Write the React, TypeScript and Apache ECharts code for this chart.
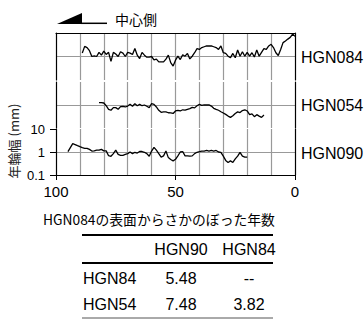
import React, { useEffect, useRef } from "react";
import * as echarts from "echarts";

const xTickLabels = [0, 50, 100];
const yTickLabels = ["0.1", "1", "10"];
const seriesNames = ["HGN084", "HGN054", "HGN090"];

const hgn084StartYear = 89;
const hgn084Values = [
  1.4, 2.7, 2.4, 1.77, 1.0, 1.07, 1.0, 1.5, 1.14, 1.7, 1.22, 1.5, 0.62, 1.5, 1.27, 1.0, 1.6, 1.4, 1.0, 1.5,
  1.4, 1.22, 2.2, 1.14, 0.82, 1.5, 1.14, 0.94, 0.94, 1.0, 0.72, 0.77, 0.59, 0.59, 0.59, 0.77, 1.14, 0.55, 0.39, 0.7,
  1.03, 0.74, 1.18, 1.03, 1.35, 0.79, 1.03, 1.45, 2.16, 2.0, 2.4, 2.6, 2.8, 2.8, 2.8, 2.6, 2.4, 2.0, 2.8, 1.45,
  1.35, 1.03, 0.9, 1.35, 0.88, 1.88, 1.03, 1.6, 1.03, 1.5, 1.03, 1.45, 0.95, 1.88, 1.03, 1.5, 2.16, 2.0, 2.8, 3.3,
  2.4, 1.45, 1.1, 2.0, 3.9, 4.6, 5.5, 6.5, 9.0, 7.2,
];

const hgn054StartYear = 82;
const hgn054Values = [
  1.26, 1.26, 1.22, 0.93, 0.65, 0.59, 0.77, 0.77, 0.65, 0.85, 0.88, 0.82, 0.9, 1.07, 0.88, 1.14, 0.93, 1.07, 0.93, 1.0,
  0.88, 0.77, 1.14, 1.07, 0.82, 0.59, 0.48, 0.5, 0.5, 0.46, 0.45, 0.43, 0.55, 0.59, 0.55, 0.62, 0.6, 0.65, 0.7, 0.79,
  0.75, 0.93, 1.07, 0.97, 1.02, 1.0, 1.02, 0.9, 0.72, 0.65, 0.59, 0.51, 0.45, 0.39, 0.33, 0.29, 0.34, 0.43, 0.5, 0.47,
  0.57, 0.62, 0.55, 0.38, 0.41, 0.31, 0.38, 0.33, 0.29, 0.37,
];

const hgn090StartYear = 95;
const hgn090Values = [
  1.03, 1.54, 2.3, 2.1, 1.88, 1.7, 1.54, 1.45, 1.45, 1.3, 1.1, 1.12, 1.2, 1.2, 1.3, 1.12, 1.12, 0.69, 0.65, 0.85,
  1.2, 0.79, 0.72, 0.72, 0.79, 0.85, 1.0, 0.85, 0.97, 0.9, 1.05, 1.05, 0.97, 0.85, 0.65, 1.1, 1.6, 1.2, 0.85, 0.6,
  0.68, 1.1, 0.57, 0.47, 0.41, 0.48, 0.68, 1.0, 1.05, 0.68, 0.68, 0.66, 0.68, 0.85, 0.97, 1.03, 1.1, 1.1, 1.17, 1.1,
  1.17, 1.1, 1.17, 1.0, 0.97, 0.66, 0.43, 0.35, 0.41, 0.35, 0.5, 0.66, 0.97, 0.66, 0.6, 0.6,
];

const tableColumns = ["HGN90", "HGN84"];
const tableRows = ["HGN84", "HGN54"];
const tableValues = [
  ["5.48", "--"],
  ["7.48", "3.82"],
];

const titleText = "中心側";
const yAxisName = "年輪幅 (mm)";
const xAxisName = "HGN084の表面からさかのぼった年数";

const LATIN = "'Liberation Sans', Arial, 'Noto Sans CJK JP', sans-serif";
const CJK = "'Noto Sans CJK JP', 'Liberation Sans', sans-serif";

function toPairs(start: number, values: number[]) {
  return values.map((v, i) => [start - i, v]);
}

export default function App() {
  const ref = useRef<HTMLDivElement>(null);
  useEffect(() => {
    if (!ref.current) return;
    const chart = echarts.init(ref.current, undefined, { renderer: "svg" });
    const gridLine = { lineStyle: { color: "#999999", width: 1.2 } };
    const grids = [
      { left: 56, right: 69, top: 33, height: 47 },
      { left: 56, right: 69, top: 82, height: 46 },
      { left: 56, right: 69, top: 129, height: 46 },
    ];
    const xAxes: any[] = grids.map((_, i) => ({
      type: "value",
      gridIndex: i,
      min: 0,
      max: 100,
      interval: 10,
      inverse: true,
      position: i === 0 ? "top" : "bottom",
      axisLine: { show: i !== 1, onZero: false, lineStyle: { color: "#000", width: 1.2 } },
      axisTick: { show: false },
      axisLabel: { show: false },
      splitLine: { show: true, showMinLine: false, showMaxLine: false, ...gridLine },
    }));
    // labelled axis for the bottom panel: ticks and labels at 100, 50, 0
    xAxes.push({
      type: "value",
      gridIndex: 2,
      min: 0,
      max: 100,
      interval: 50,
      inverse: true,
      position: "bottom",
      axisLine: { show: false, onZero: false },
      axisTick: { show: true, length: 5, lineStyle: { color: "#000" } },
      axisLabel: {
        show: true,
        formatter: (v: number) => (xTickLabels.includes(v) ? String(v) : ""),
        fontSize: 15,
        color: "#000",
        margin: 9,
        fontFamily: LATIN,
      },
      splitLine: { show: false },
    });
    const yAxes: any[] = [];
    grids.forEach((_, i) => {
      yAxes.push({
        type: "log",
        logBase: 10,
        gridIndex: i,
        min: 0.1,
        max: 10,
        position: "left",
        axisLine: { show: true, onZero: false, lineStyle: { color: "#000", width: 1.2 } },
        axisTick: i === 2 ? { show: true, length: 6, lineStyle: { color: "#000" } } : { show: false },
        axisLabel: i === 2
          ? {
              show: true,
              fontSize: 13,
              color: "#000",
              margin: 11,
              fontFamily: LATIN,
              formatter: (v: number) => {
                const s = yTickLabels.find((t) => Math.abs(parseFloat(t) - v) < 1e-6);
                return s ?? "";
              },
            }
          : { show: false },
        splitLine: { show: true, showMinLine: false, showMaxLine: false, ...gridLine },
      });
      yAxes.push({
        type: "log",
        logBase: 10,
        gridIndex: i,
        min: 0.1,
        max: 10,
        position: "right",
        axisLine: { show: true, onZero: false, lineStyle: { color: "#000", width: 1.2 } },
        axisTick: { show: false },
        axisLabel: { show: false },
        splitLine: { show: false },
      });
    });
    const seriesData = [
      toPairs(hgn084StartYear, hgn084Values),
      toPairs(hgn054StartYear, hgn054Values),
      toPairs(hgn090StartYear, hgn090Values),
    ];
    const series = seriesData.map((d, i) => ({
      type: "line",
      name: seriesNames[i],
      xAxisIndex: i,
      yAxisIndex: i * 2,
      data: d,
      showSymbol: false,
      symbol: "none",
      lineStyle: { color: "#000", width: 1.3 },
      z: 5,
    }));

    const graphic: any[] = [
      { type: "polygon", shape: { points: [[57, 24], [82, 13], [82, 24]] }, style: { fill: "#000" } },
      { type: "line", shape: { x1: 81, y1: 23.3, x2: 107, y2: 23.3 }, style: { stroke: "#000", lineWidth: 1.5 } },
      { type: "text", x: 115, y: 18.5, style: { text: titleText, fontSize: 14, fontFamily: CJK, fill: "#000", verticalAlign: "middle", textAlign: "left" } },
      { type: "text", x: 13, y: 141, rotation: Math.PI / 2, style: { text: yAxisName, fontSize: 13, fontFamily: CJK, fill: "#222", verticalAlign: "middle", textAlign: "center" } },
      { type: "text", x: 43, y: 219, style: { text: xAxisName, fontSize: 13.8, fontFamily: CJK, fill: "#000", verticalAlign: "middle", textAlign: "left" } },
    ];
    const labelY = [57, 105, 153];
    seriesNames.forEach((n, i) => {
      graphic.push({ type: "text", x: 301, y: labelY[i], style: { text: n, fontSize: 16, fontFamily: LATIN, fill: "#000", verticalAlign: "middle", textAlign: "left" } });
    });
    const tLeft = 82;
    const tRight = 273;
    const colX = [181, 249];
    const headerY = 249;
    const rowY = [278, 304];
    graphic.push(
      { type: "line", shape: { x1: tLeft, y1: 235, x2: tRight, y2: 235 }, style: { stroke: "#000", lineWidth: 2 } },
      { type: "line", shape: { x1: tLeft, y1: 263, x2: tRight, y2: 263 }, style: { stroke: "#000", lineWidth: 2 } },
      { type: "line", shape: { x1: tLeft, y1: 318, x2: tRight, y2: 318 }, style: { stroke: "#555", lineWidth: 1 } }
    );
    const tFont = { fontSize: 16, fontFamily: LATIN, fill: "#000", verticalAlign: "middle" };
    tableColumns.forEach((c, j) => {
      graphic.push({ type: "text", x: colX[j], y: headerY, style: { text: c, textAlign: "center", ...tFont } });
    });
    tableRows.forEach((r, i) => {
      graphic.push({ type: "text", x: 83, y: rowY[i], style: { text: r, textAlign: "left", ...tFont } });
      tableValues[i].forEach((v, j) => {
        graphic.push({ type: "text", x: colX[j], y: rowY[i], style: { text: v, textAlign: "center", ...tFont } });
      });
    });

    chart.setOption({ animation: false, backgroundColor: "#fff", grid: grids, xAxis: xAxes, yAxis: yAxes, series, graphic });
    return () => chart.dispose();
  }, []);
  return <div ref={ref} style={{ position: "absolute", left: 0, top: 0, width: 364, height: 320 }} />;
}
